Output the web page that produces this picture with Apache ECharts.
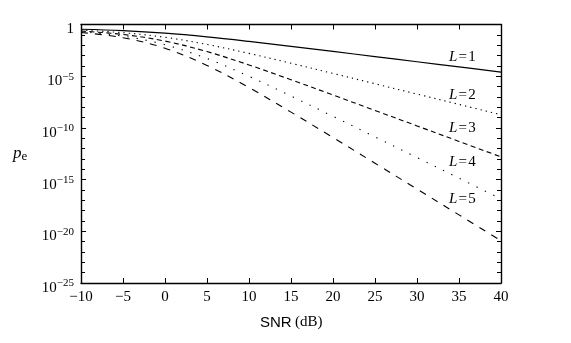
<!DOCTYPE html>
<html>
<head>
<meta charset="utf-8">
<style>
  html, body { margin: 0; padding: 0; background: #fff; }
  #chart { width: 571px; height: 343px; }
</style>
<script src="https://cdn.jsdelivr.net/npm/echarts@6/dist/echarts.min.js"></script>
</head>
<body>
<div id="chart"></div>
<script>
// SNR sample points (dB)
const snrDb = [-10, -5, 0, 5, 10, 15, 20, 25, 30, 35, 40];

// Error probability for diversity orders L = 1..5
const pe1 = [3.49e-1, 2.55e-1, 1.46e-1, 6.42e-2, 2.33e-2, 7.72e-3, 2.48e-3, 7.89e-4, 2.50e-4, 7.90e-5, 2.50e-5];
const pe2 = [2.81e-1, 1.62e-1, 5.81e-2, 1.18e-2, 1.60e-3, 1.78e-4, 1.84e-5, 1.86e-6, 1.87e-7, 1.87e-8, 1.88e-9];
const pe3 = [2.34e-1, 1.09e-1, 2.49e-2, 2.40e-3, 1.22e-4, 4.55e-6, 1.52e-7, 4.90e-9, 1.56e-10, 4.94e-12, 1.56e-13];
const pe4 = [1.99e-1, 7.52e-2, 1.11e-2, 5.07e-4, 9.70e-6, 1.22e-7, 1.32e-9, 1.35e-11, 1.36e-13, 1.37e-15, 1.37e-17];
const pe5 = [1.70e-1, 5.29e-2, 5.06e-3, 1.10e-4, 7.95e-7, 3.37e-9, 1.18e-11, 3.83e-14, 1.23e-16, 3.88e-19, 1.23e-21];

const curveNames = ['L=1', 'L=2', 'L=3', 'L=4', 'L=5'];
const curveData = [pe1, pe2, pe3, pe4, pe5];

// x tick settings
const xMin = -10, xMax = 40, xStep = 5;
// y range in decades (exponent of ten) and labelled step
const decadeMin = -25, decadeMax = 0, decadeStep = 5;

const serif = '"Liberation Serif", "DejaVu Serif", serif';

// Dash pattern per curve
const lineTypes = [
  'solid',
  [1.3, 4],
  [5, 3.5],
  [1.3, 8],
  [7, 7]
];

function pairs(ys) {
  return snrDb.map((x, i) => [x, ys[i]]);
}

function decadeLabel(e) {
  if (e === 0) return '{b|1}';
  return '{b|10}{s|\u2212' + Math.abs(e) + '}';
}

const tickStyle = { color: '#000', width: 1 };
const frameLine = { show: true, onZero: false, lineStyle: { color: '#000', width: 1.4 } };

// decade axis (ticks + labels) shared by left and right frame edges
function decadeAxis(pos, showLabels) {
  return {
    type: 'value', min: decadeMin, max: decadeMax, interval: decadeStep, position: pos,
    axisLine: frameLine,
    axisTick: { show: true, inside: true, length: 5, lineStyle: tickStyle },
    minorTick: { show: true, splitNumber: 5, length: 4, lineStyle: tickStyle },
    axisLabel: {
      show: showLabels,
      color: '#000', fontFamily: serif, fontSize: 15, margin: 7,
      padding: [10, 0, 0, 0],
      formatter: decadeLabel,
      rich: {
        b: { fontFamily: serif, fontSize: 15, color: '#000' },
        s: { fontFamily: serif, fontSize: 11, verticalAlign: 'top', padding: [0, 0, 9, 0], color: '#000' }
      }
    },
    splitLine: { show: false }
  };
}

const chart = echarts.init(document.getElementById('chart'), null, { renderer: 'canvas' });

const option = {
  animation: false,
  backgroundColor: '#fff',
  grid: { left: 81, right: 70, top: 24.5, bottom: 60, containLabel: false },
  xAxis: [
    {
      type: 'value', min: xMin, max: xMax, interval: xStep, position: 'bottom',
      axisLine: frameLine,
      axisTick: { show: true, inside: true, length: 5, lineStyle: tickStyle },
      axisLabel: {
        color: '#000', fontFamily: serif, fontSize: 15, margin: 7,
        formatter: v => (v < 0 ? '\u2212' + Math.abs(v) : String(v))
      },
      splitLine: { show: false }
    },
    {
      type: 'value', min: xMin, max: xMax, interval: xStep, position: 'top',
      axisLine: frameLine,
      axisTick: { show: true, inside: true, length: 5, lineStyle: tickStyle },
      axisLabel: { show: false },
      splitLine: { show: false }
    }
  ],
  yAxis: [
    {
      // data scale for the curves
      type: 'log', logBase: 10, min: Math.pow(10, decadeMin), max: Math.pow(10, decadeMax),
      axisLine: { show: false }, axisTick: { show: false }, axisLabel: { show: false },
      splitLine: { show: false }
    },
    decadeAxis('left', true),
    decadeAxis('right', false)
  ],
  series: curveData.map((ys, i) => ({
    name: curveNames[i],
    type: 'line',
    xAxisIndex: 0,
    yAxisIndex: 0,
    data: pairs(ys),
    smooth: 0.35,
    showSymbol: false,
    symbol: 'none',
    lineStyle: { color: '#000', width: i === 0 ? 1.2 : 1.1, type: lineTypes[i], cap: 'butt' },
    z: 3
  })),
  graphic: [
    { type: 'text', left: 260, top: 315, style: { text: 'SNR', font: '15px "Liberation Sans", Arial, sans-serif', fill: '#000' } },
    { type: 'text', left: 295, top: 315, style: { text: '(dB)', font: '15px ' + serif, fill: '#000' } },
    {
      type: 'text', left: 13, top: 145,
      style: {
        text: '{p|p}{e|e}',
        rich: {
          p: { fontFamily: serif, fontStyle: 'italic', fontSize: 17, fill: '#000' },
          e: { fontFamily: serif, fontSize: 13, fill: '#000', verticalAlign: 'bottom', padding: [6, 0, 0, 0] }
        }
      }
    }
  ].concat([57.5, 96, 128.5, 163, 199.5].map((y, i) => ({
    type: 'text', left: 449, top: y - 8,
    style: {
      text: '{l|L}{n|\u200A=\u200A' + (i + 1) + '}',
      rich: {
        l: { fontFamily: serif, fontStyle: 'italic', fontSize: 15, fill: '#000' },
        n: { fontFamily: serif, fontSize: 15, fill: '#000' }
      }
    }
  })))
};

chart.setOption(option);
</script>
</body>
</html>
